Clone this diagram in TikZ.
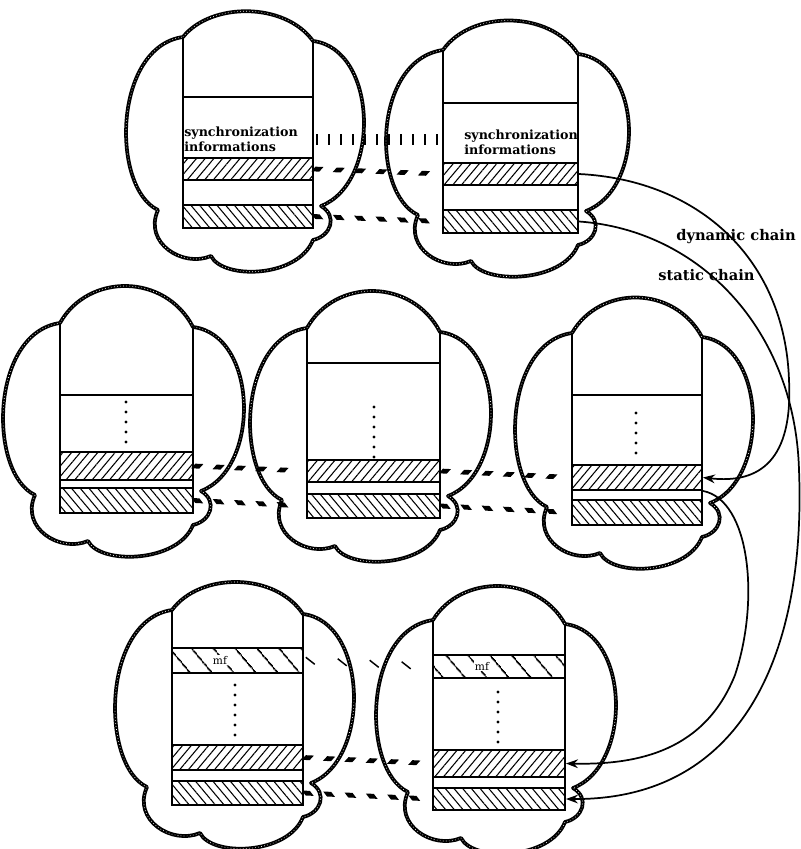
\documentclass[tikz,border=0pt]{standalone}
\usepackage{fontspec}
\setmainfont{DejaVu Serif}
\usetikzlibrary{patterns.meta,fit,decorations.markings,arrows.meta}

\tikzset{
 cloudline/.style={line width=2.8pt, line join=round, postaction={draw=white, line width=0.5pt, dash pattern=on 0.5pt off 1.8pt}},
 boxline/.style={line width=1.4pt},
 fld/.style={draw, line width=1.4pt, inner sep=0pt},
 dynf/.style={fld, pattern={Lines[angle=50,distance=5pt,line width=0.8pt]}},
 stf/.style={fld, pattern={Lines[angle=-50,distance=5pt,line width=0.8pt]}},
 mff/.style={fld, pattern={Lines[angle=-50,distance=13pt,line width=1.3pt]}},
 dotcol/.style={line width=2.4pt, line cap=round, dash pattern=on 0pt off 7.5pt},
 dynlink/.style={postaction={decorate}, decoration={markings, mark=between positions 0.03 and 0.98 step 16pt with {\fill (-4.5pt,-1.8pt) -- (1.5pt,-1.8pt) -- (4.5pt,1.8pt) -- (-1.5pt,1.8pt) -- cycle;}}},
 statlink/.style={postaction={decorate}, decoration={markings, mark=between positions 0.03 and 0.98 step 16pt with {\fill (-1.5pt,-1.8pt) -- (4.5pt,-1.8pt) -- (1.5pt,1.8pt) -- (-4.5pt,1.8pt) -- cycle;}}},
 synclink/.style={postaction={decorate}, decoration={markings, mark=between positions 0.03 and 0.98 step 9pt with {\fill (-0.75pt,-3.8pt) rectangle (0.75pt,3.8pt);}}},
 mflink/.style={postaction={decorate}, decoration={markings, mark=between positions 0.05 and 0.95 step 24pt with {\draw[line width=1.1pt] (-3.5pt,2.5pt) -- (3.5pt,-2.5pt);}}},
 chain/.style={line width=1.3pt, -{Stealth[length=9pt,width=6.5pt]}},
 synctxt/.style={align=left, inner sep=0pt, font=\bfseries\fontsize{9.5}{11}\selectfont},
 chainlbl/.style={inner sep=0pt, font=\bfseries\fontsize{11}{13}\selectfont},
 mftxt/.style={inner sep=0.4pt, fill=white, font=\fontsize{8}{8}\selectfont},
}

% L T W H topcontrol
\newcommand\cloudat[5]{%
 \begin{scope}[shift={(#1,#2)}]
 \draw[cloudline] (0,0) .. controls (28,#5) and ({#3-28},#5) .. (#3,4)
   .. controls ({#3+65},12) and ({#3+68},{#4-45}) .. ({#3+8},{#4-22})
   .. controls ({#3+25},{#4-12}) and ({#3+18},{#4+8}) .. (#3,{#4+12})
   .. controls ({#3-15},{#4+50}) and (40,{#4+52}) .. (28,{#4+28})
   .. controls (0,{#4+40}) and (-40,{#4+15}) .. (-25,{#4-18})
   .. controls (-72,{#4-40}) and (-70,10) .. cycle;
 \end{scope}}

\begin{document}
\begin{tikzpicture}[x=0.75pt,y=-0.75pt]
\fill[white] (0,0) rectangle (800,849);
\useasboundingbox (0,0) rectangle (800,849);

% ---------- clouds ----------
\cloudat{183}{37}{130}{191}{-35}
\cloudat{443}{50}{135}{183}{-40}
\cloudat{60}{323}{133}{190}{-50}
\cloudat{307}{328}{133}{190}{-50}
\cloudat{572}{333}{130}{192}{-48}
\cloudat{172}{610}{131}{195}{-38}
\cloudat{433}{620}{132}{190}{-46}

% ---------- top left ----------
\draw[boxline] (183,37) -- (183,228) -- (313,228) -- (313,41);
\draw[boxline] (183,97) -- (313,97);
\node[dynf, fit={(183,158) (313,180)}] (tl-d) {};
\node[stf, fit={(183,205) (313,228)}] (tl-st) {};
\node[synctxt, anchor=north west] (tl-txt) at (184,127) {synchronization\\informations};

% ---------- top right ----------
\draw[boxline] (443,50) -- (443,233) -- (578,233) -- (578,54);
\draw[boxline] (443,103) -- (578,103);
\node[dynf, fit={(443,163) (578,185)}] (tr-d) {};
\node[stf, fit={(443,210) (578,233)}] (tr-st) {};
\node[synctxt, anchor=north west] (tr-txt) at (464,130) {synchronization\\informations};

% ---------- middle left ----------
\draw[boxline] (60,323) -- (60,513) -- (193,513) -- (193,327);
\draw[boxline] (60,395) -- (193,395);
\draw[dotcol] (126,402) -- (126,445);
\node[dynf, fit={(60,452) (193,480)}] (ml-d) {};
\node[stf, fit={(60,488) (193,513)}] (ml-st) {};

% ---------- middle middle ----------
\draw[boxline] (307,328) -- (307,518) -- (440,518) -- (440,332);
\draw[boxline] (307,363) -- (440,363);
\draw[dotcol] (374,407) -- (374,458);
\node[dynf, fit={(307,460) (440,482)}] (mm-d) {};
\node[stf, fit={(307,494) (440,518)}] (mm-st) {};

% ---------- middle right ----------
\draw[boxline] (572,333) -- (572,525) -- (702,525) -- (702,337);
\draw[boxline] (572,395) -- (702,395);
\draw[dotcol] (636,413) -- (636,455);
\node[dynf, fit={(572,465) (702,490)}] (mr-d) {};
\node[stf, fit={(572,500) (702,525)}] (mr-st) {};

% ---------- bottom left ----------
\draw[boxline] (172,610) -- (172,805) -- (303,805) -- (303,614);
\node[mff, fit={(172,648) (303,673)}] (bl-mf) {};
\node[mftxt] (bl-mft) at (220,660) {mf};
\draw[dotcol] (235,685) -- (235,738);
\node[dynf, fit={(172,745) (303,770)}] (bl-d) {};
\node[stf, fit={(172,781) (303,805)}] (bl-st) {};

% ---------- bottom right ----------
\draw[boxline] (433,620) -- (433,810) -- (565,810) -- (565,624);
\node[mff, fit={(433,655) (565,678)}] (br-mf) {};
\node[mftxt] (br-mft) at (482,666) {mf};
\draw[dotcol] (498,692) -- (498,743);
\node[dynf, fit={(433,750) (565,777)}] (br-d) {};
\node[stf, fit={(433,788) (565,810)}] (br-st) {};

% ---------- horizontal links ----------
\path[synclink] (tl-txt.east -| tl-d.east) -- (tl-txt.east -| tr-d.west);
\path[dynlink] (tl-d.east) -- (tr-d.west);
\path[statlink] (tl-st.east) -- (tr-st.west);

\path[dynlink] (ml-d.east) -- (mm-d.west);
\path[statlink] (ml-st.east) -- (mm-st.west);
\path[dynlink] (mm-d.east) -- (mr-d.west);
\path[statlink] (mm-st.east) -- (mr-st.west);

\path[mflink] (bl-mf.east) -- (br-mf.west);
\path[dynlink] (bl-d.east) -- (br-d.west);
\path[statlink] (bl-st.east) -- (br-st.west);

% ---------- chains ----------
\draw[chain] (tr-d.east) .. controls (700,180) and (785,260) .. (789,380)
   .. controls (793,460) and (760,484) .. (mr-d.east);
\draw[chain] (mr-d.south east) .. controls (750,500) and (760,600) .. (735,675)
   .. controls (705,750) and (640,765) .. (br-d.east);
\draw[chain] (tr-st.east) .. controls (700,230) and (795,330) .. (799,470)
   .. controls (806,650) and (745,800) .. (br-st.east);

\node[chainlbl, anchor=west] (dynlbl) at (676,237) {dynamic chain};
\node[chainlbl, anchor=west] (statlbl) at (658,275) {static chain};
\end{tikzpicture}
\end{document}
